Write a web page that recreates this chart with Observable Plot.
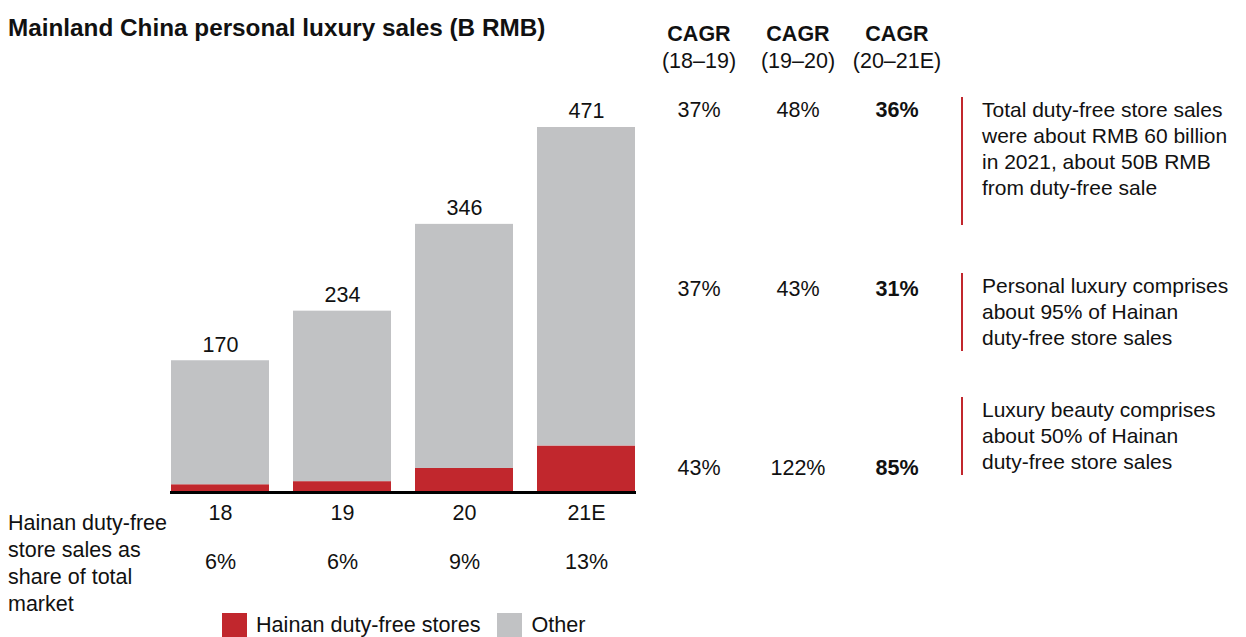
<!DOCTYPE html>
<html>
<head>
<meta charset="utf-8">
<script src="https://cdn.jsdelivr.net/npm/d3@7"></script>
<script src="https://cdn.jsdelivr.net/npm/@observablehq/plot@0.6"></script>
<style>
  html, body { margin: 0; padding: 0; background: #fff; }
  body { width: 1246px; height: 637px; position: relative; overflow: hidden;
         font-family: "Liberation Sans", Arial, sans-serif; color: #111; }
  .abs { position: absolute; }
  #title { left: 8px; top: 14px; font-size: 24.3px; font-weight: bold; line-height: 28px; white-space: nowrap; }
  .note { position: absolute; left: 961px; border-left: 2px solid #c1272d; padding-left: 19px;
          font-size: 21px; line-height: 26px; white-space: nowrap; }
  #sharelabel { left: 8px; top: 510px; font-size: 21.5px; line-height: 27px; white-space: nowrap; }
  #legend { left: 222px; top: 612px; display: flex; align-items: center; font-size: 21.6px; }
  .sw { width: 25px; height: 25px; display: inline-block; margin-right: 9px; }
  .lg { display: flex; align-items: center; margin-right: 17px; }
</style>
</head>
<body>
<div id="title" class="abs"></div>
<div id="chart" class="abs" style="left:0;top:0"></div>
<div id="table" class="abs" style="left:648px;top:0"></div>
<div id="notes"></div>
<div id="sharelabel" class="abs"></div>
<div id="legend" class="abs"></div>
<script>
// ---- data ----
const title = "Mainland China personal luxury sales (B RMB)";
const years = ["18", "19", "20", "21E"];
const totals = [170, 234, 346, 471];
const hainan = [10, 14, 31, 60];
const shares = ["6%", "6%", "9%", "13%"];
const shareLabel = "Hainan duty-free<br>store sales as<br>share of total<br>market";
const seriesNames = ["Hainan duty-free stores", "Other"];
const seriesColors = ["#c1272d", "#c1c2c4"];

const periods = ["(18–19)", "(19–20)", "(20–21E)"];
const cagrRows = ["total", "personal", "beauty"];
const cagrTotal = ["37%", "48%", "36%"];
const cagrPersonal = ["37%", "43%", "31%"];
const cagrBeauty = ["43%", "122%", "85%"];

const notes = [
  "Total duty-free store sales<br>were about RMB 60 billion<br>in 2021, about 50B RMB<br>from duty-free sale",
  "Personal luxury comprises<br>about 95% of Hainan<br>duty-free store sales",
  "Luxury beauty comprises<br>about 50% of Hainan<br>duty-free store sales"
];

// ---- build tables ----
const stacked = [];
years.forEach((y, i) => {
  stacked.push({year: y, series: seriesNames[0], value: hainan[i]});
  stacked.push({year: y, series: seriesNames[1], value: totals[i] - hainan[i]});
});
const totalRows = years.map((y, i) => ({year: y, total: totals[i], share: shares[i]}));

const cagrCells = [];
[cagrTotal, cagrPersonal, cagrBeauty].forEach((arr, r) => {
  arr.forEach((v, c) => cagrCells.push({row: cagrRows[r], period: periods[c], value: v, bold: c === periods.length - 1}));
});

const font = "Liberation Sans, Arial, sans-serif";

document.getElementById("title").textContent = title;

// ---- bar chart ----
const chart = Plot.plot({
  width: 660,
  height: 600,
  marginLeft: 170,
  marginRight: 24,
  marginTop: 127,
  marginBottom: 108,
  style: {fontFamily: font, color: "#111", background: "transparent"},
  x: {domain: years, paddingInner: 0.2, paddingOuter: 0, label: null},
  y: {domain: [0, 471], axis: null},
  color: {domain: seriesNames, range: seriesColors},
  marks: [
    Plot.barY(stacked, {x: "year", y: "value", fill: "series"}),
    Plot.ruleY([0], {stroke: "#000", strokeWidth: 3}),
    Plot.text(totalRows, {x: "year", y: "total", text: d => String(d.total), dy: -16, fontSize: 21.5, fill: "#111"}),
    Plot.axisX({tickSize: 0, tickPadding: 12, fontSize: 21.5, label: null, fill: "#111"}),
    Plot.text(totalRows, {x: "year", text: "share", frameAnchor: "bottom", dy: 76, fontSize: 21.5, fill: "#111"})
  ]
});
document.getElementById("chart").appendChild(chart);

// ---- CAGR table ----
const table = Plot.plot({
  width: 298,
  height: 500,
  marginLeft: 0,
  marginRight: 0,
  marginTop: 110,
  marginBottom: 32,
  style: {fontFamily: font, color: "#111", background: "transparent"},
  x: {domain: periods, type: "band", paddingInner: 0, paddingOuter: 0, axis: null},
  y: {domain: cagrRows, type: "point", padding: 0, axis: null},
  marks: [
    Plot.text(periods, {x: d => d, frameAnchor: "top", dy: -85, text: () => "CAGR", fontWeight: "bold", fontSize: 21.5, fill: "#111"}),
    Plot.text(periods, {x: d => d, frameAnchor: "top", dy: -58, text: d => d, fontSize: 21.5, fill: "#111"}),
    Plot.text(cagrCells.filter(d => !d.bold), {x: "period", y: "row", text: "value", fontSize: 21.5, fill: "#111"}),
    Plot.text(cagrCells.filter(d => d.bold), {x: "period", y: "row", text: "value", fontSize: 21.5, fontWeight: "bold", fill: "#111"})
  ]
});
document.getElementById("table").appendChild(table);

// ---- notes ----
const noteBoxes = [
  {top: 97, pb: 24},
  {top: 273, pb: 0},
  {top: 397, pb: 0}
];
const notesEl = document.getElementById("notes");
notes.forEach((n, i) => {
  const d = document.createElement("div");
  d.className = "note";
  d.style.top = noteBoxes[i].top + "px";
  d.style.paddingBottom = noteBoxes[i].pb + "px";
  d.innerHTML = n;
  notesEl.appendChild(d);
});

document.getElementById("sharelabel").innerHTML = shareLabel;

// ---- legend ----
const lg = document.getElementById("legend");
seriesNames.forEach((s, i) => {
  const item = document.createElement("div");
  item.className = "lg";
  item.innerHTML = `<span class="sw" style="background:${seriesColors[i]}"></span><span>${s}</span>`;
  lg.appendChild(item);
});
</script>
</body>
</html>
